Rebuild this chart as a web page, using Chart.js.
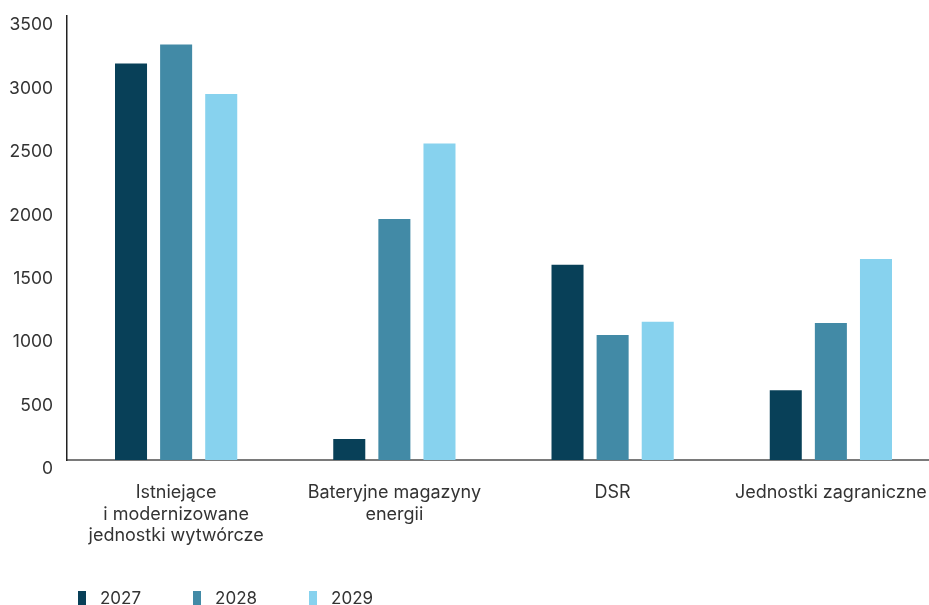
<!DOCTYPE html>
<html lang="pl">
<head>
<meta charset="utf-8">
<script src="https://cdn.jsdelivr.net/npm/chart.js@4/dist/chart.umd.min.js"></script>
<style>
  html, body { margin: 0; padding: 0; background: #fff; }
  #wrap { position: relative; width: 929px; height: 605px; overflow: hidden; }
  #chart { display: block; }
  #legend { position: absolute; left: 78px; top: 588px; display: flex; font-family: Inter, sans-serif; font-size: 17px; color: #333; }
  .item { display: flex; align-items: center; margin-right: 52px; }
  .box { width: 8px; height: 15px; margin-right: 14px; }
</style>
</head>
<body>
<div id="wrap">
  <!-- le graphique déborde un peu à droite, comme dans l'original -->
  <canvas id="chart" width="940" height="605"></canvas>
  <div id="legend"></div>
</div>
<script>
// --- Données ---
const categories = [
    ['Istniejące', 'i modernizowane', 'jednostki wytwórcze'],
    ['Bateryjne magazyny', 'energii'],
    'DSR',
    'Jednostki zagraniczne'
];
const years = ['2027', '2028', '2029'];
const values2027 = [3125, 165, 1540, 550];
const values2028 = [3275, 1900, 985, 1080];
const values2029 = [2885, 2495, 1090, 1585];
const yTicks = [0, 500, 1000, 1500, 2000, 2500, 3000, 3500];

const colors = ['#084058', '#428aa6', '#87d2ee'];
const textColor = '#333';

const series = [values2027, values2028, values2029];

const ctx = document.getElementById('chart').getContext('2d');
const chart = new Chart(ctx, {
    type: 'bar',
    data: {
        labels: categories,
        datasets: series.map((vals, i) => ({
            label: years[i],
            data: vals,
            backgroundColor: colors[i],
            borderWidth: 0,
            categoryPercentage: 0.62,
            barPercentage: 0.71
        }))
    },
    options: {
        responsive: false,
        animation: false,
        layout: { padding: { top: 16, right: 0, bottom: 0, left: 0 } },
        plugins: { legend: { display: false }, tooltip: { enabled: false } },
        scales: {
            x: {
                grid: { display: false, drawTicks: false },
                border: { display: true, color: '#7a7a7a', width: 2 },
                ticks: {
                    color: textColor,
                    font: { family: 'Inter, sans-serif', size: 18, lineHeight: 1.2 },
                    padding: 22, maxRotation: 0, autoSkip: false
                },
                afterFit: (scale) => {
                    scale.height = 145;
                    scale.paddingLeft = 0;
                    scale.paddingRight = 0;
                }
            },
            y: {
                min: yTicks[0],
                max: yTicks[yTicks.length - 1],
                grid: { display: false, drawTicks: false },
                border: { display: true, color: '#222', width: 1.5 },
                ticks: {
                    color: textColor,
                    font: { family: 'Inter, sans-serif', size: 17.5 },
                    stepSize: 500, padding: 14, labelOffset: 9,
                    callback: (v) => String(v)
                },
                afterFit: (scale) => {
                    scale.width = 67;
                    scale.paddingTop = 0;
                    scale.paddingBottom = 0;
                }
            }
        }
    }
});

// Légende HTML
const legend = document.getElementById('legend');
chart.data.datasets.forEach(ds => {
    const item = document.createElement('div');
    item.className = 'item';
    item.innerHTML = `<span class="box" style="background:${ds.backgroundColor}"></span><span>${ds.label}</span>`;
    legend.appendChild(item);
});
</script>
</body>
</html>
